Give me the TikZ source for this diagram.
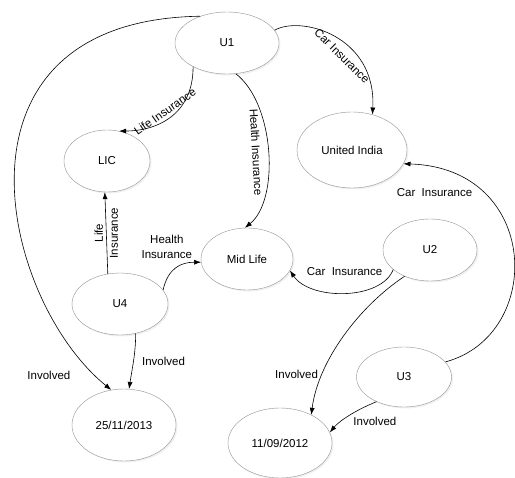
\documentclass[tikz,border=0pt]{standalone}
\usepackage{fontspec}
\setmainfont{Liberation Sans}
\usetikzlibrary{arrows.meta,shapes.geometric,shadows}

\begin{document}
\begin{tikzpicture}[x=1pt,y=-1pt,->,>={Latex[length=7pt,width=5pt]},semithick,
      font=\fontsize{11.5}{15}\selectfont,
      ent/.style 2 args={ellipse, draw=gray!85, thin, fill=white, inner sep=0pt,
        minimum width=#1, minimum height=#2,
        drop shadow={shadow xshift=1.5pt, shadow yshift=-1.5pt, opacity=0.12}}]
     \useasboundingbox (0,0) rectangle (515,478);
     % entities
     \node[ent={104pt}{62pt}] (u1) at (227,43) {U1};
     \node[ent={86pt}{62pt}] (lic) at (107,161) {LIC};
     \node[ent={110pt}{76pt}] (united) at (352,150) {United India};
     \node[ent={92pt}{62pt}] (midlife) at (247,259) {Mid Life};
     \node[ent={94pt}{62pt}] (u2) at (430,250) {U2};
     \node[ent={96pt}{62pt}] (u4) at (120,304) {U4};
     \node[ent={95pt}{60pt}] (u3) at (404,377) {U3};
     \node[ent={104pt}{72pt}] (date1) at (124,425) {25/11/2013};
     \node[ent={104pt}{70pt}] (date2) at (280,443) {11/09/2012};
     % relations
     \draw (u1.215) .. controls +(0,50) and +(35,0) .. node[sloped, above=2pt, pos=0.5, inner sep=1pt] {Life Insurance} (lic.68);
     \draw (u1.286) .. controls +(39,30) and +(35,-28) .. node[sloped, below=4pt, pos=0.5] {Health Insurance} (midlife.94);
     \draw (u1.15) .. controls +(26,-15) and +(4,-79) .. node[sloped, below=3pt, pos=0.62] {Car Insurance} (united.60);
     \draw (u3.20) .. controls +(100,-27) and +(137,4) .. node[pos=0.75, left=6pt] {Car\ \ Insurance} (united.-15);
     \draw (u2.208) .. controls +(-12,31) and +(20,30) .. node[pos=0.5, above=14pt] {Car\ \ Insurance} (midlife.-15);
     \draw (u2.226) .. controls +(-44,29) and +(7,-55) .. node[pos=0.75, left=1pt] {Involved} (date2.42);
     \draw (u3.222) .. controls +(-20,8) and +(10,-12) .. node[pos=0.45, below right, xshift=-2pt] {Involved} (date2.12);
     \draw (u1.135) .. controls +(-264,4) and +(-111,-90) .. node[pos=0.95, left=21pt] {Involved} (date1.110);
     \draw (u4.-62) .. controls +(0,20) and +(3,-20) .. node[pos=0.5, right=5pt] {Involved} (date1.82);
     \draw (u4.112) -- node[midway, rotate=90, align=center, inner sep=0pt] {Life\\Insurance} (lic.266);
     \draw (u4.18) .. controls +(5,-22) and +(-20,0) .. node[pos=0.4, above=8pt, xshift=-6pt, align=center] {Health\\Insurance} (midlife.184);
\end{tikzpicture}
\end{document}
